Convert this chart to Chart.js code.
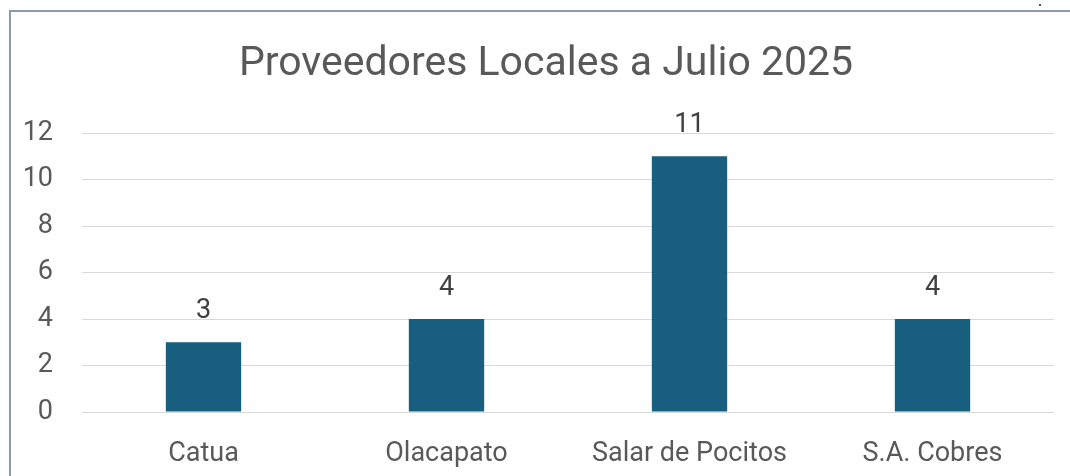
<!DOCTYPE html>
<html>
<head>
<meta charset="utf-8">
<script src="https://cdn.jsdelivr.net/npm/chart.js@4"></script>
<style>
  html, body { margin: 0; padding: 0; background: #fff; }
  #wrap { position: relative; width: 1070px; height: 476px; overflow: hidden; }
  #frame { position: absolute; left: 9px; top: 10px; width: 1200px; height: 600px;
           border-left: 2px solid #8e9aa7; border-top: 2px solid #8e9aa7; }
  #dot { position: absolute; left: 1039px; top: 4px; width: 2px; height: 2px; background: #555; }
  canvas { position: absolute; left: 0; top: 0; }
</style>
</head>
<body>
<div id="wrap">
  <div id="frame"></div>
  <div id="dot"></div>
  <canvas id="c" width="1070" height="476"></canvas>
</div>
<script>
const titleText = 'Proveedores Locales a Julio 2025';
const categories = ['Catua', 'Olacapato', 'Salar de Pocitos', 'S.A. Cobres'];
const providers = [3, 4, 11, 4];
const yTicks = [0, 2, 4, 6, 8, 10, 12];

const FONT = "Roboto, 'Liberation Sans', sans-serif";
const TEXT = '#595959';

// chart title, centred on the framed chart space (frame starts at x = 9)
const frameTitle = {
  id: 'frameTitle',
  afterDraw(chart) {
    const ctx = chart.ctx;
    ctx.save();
    ctx.font = '41px ' + FONT;
    ctx.fillStyle = TEXT;
    ctx.textAlign = 'center';
    ctx.textBaseline = 'middle';
    ctx.fillText(titleText, (9 + chart.width + 13) / 2, 65);
    ctx.restore();
  }
};

// value labels drawn above each bar
const barValueLabels = {
  id: 'barValueLabels',
  afterDatasetsDraw(chart) {
    const ctx = chart.ctx;
    const meta = chart.getDatasetMeta(0);
    ctx.save();
    ctx.font = '27px ' + FONT;
    ctx.fillStyle = '#404040';
    ctx.textAlign = 'center';
    ctx.textBaseline = 'alphabetic';
    meta.data.forEach((bar, i) => {
      ctx.fillText(String(providers[i]), bar.x, bar.y - 24);
    });
    ctx.restore();
  }
};

new Chart(document.getElementById('c'), {
  type: 'bar',
  data: {
    labels: categories,
    datasets: [{
      data: providers,
      backgroundColor: '#175e7f',
      borderWidth: 0,
      categoryPercentage: 1,
      barPercentage: 0.31
    }]
  },
  options: {
    responsive: false,
    animation: false,
    devicePixelRatio: 1,
    layout: { padding: { left: 0, right: 16, top: 133, bottom: 0 } },
    plugins: {
      legend: { display: false },
      tooltip: { enabled: false },
      title: { display: false }
    },
    scales: {
      x: {
        grid: { display: false },
        border: { display: false },
        ticks: { color: TEXT, font: { family: FONT, size: 27 }, padding: 18 },
        afterFit(scale) { scale.height = 64; }
      },
      y: {
        min: 0,
        max: 12,
        afterBuildTicks(scale) { scale.ticks = yTicks.map(v => ({ value: v })); },
        grid: { color: '#d9d9d9', lineWidth: 1, drawTicks: false },
        border: { display: false },
        ticks: { color: TEXT, font: { family: FONT, size: 27 }, padding: 29 },
        afterFit(scale) { scale.width = 82; }
      }
    }
  },
  plugins: [barValueLabels, frameTitle]
});
</script>
</body>
</html>
